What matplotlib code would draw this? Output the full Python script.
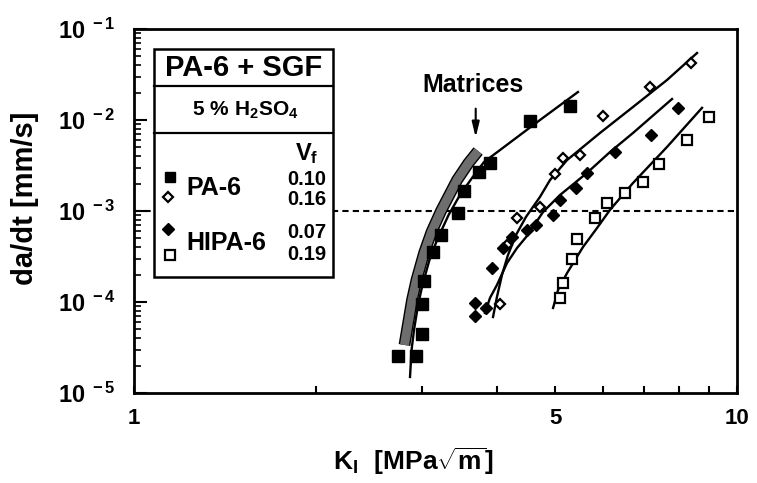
import matplotlib
matplotlib.use('Agg')
import matplotlib.pyplot as plt
from matplotlib.patches import Rectangle
from matplotlib.lines import Line2D
from matplotlib.ticker import FixedLocator, NullFormatter, FixedFormatter

plt.rcParams['font.family'] = ['Liberation Sans', 'DejaVu Sans']
plt.rcParams['font.weight'] = 'bold'
plt.rcParams['mathtext.fontset'] = 'custom'
plt.rcParams['mathtext.rm'] = 'Liberation Sans:bold'
plt.rcParams['mathtext.bf'] = 'Liberation Sans:bold'
plt.rcParams['mathtext.it'] = 'Liberation Sans:bold'
plt.rcParams['mathtext.sf'] = 'Liberation Sans:bold'

# ---------------- data (K_I [MPa sqrt(m)], da/dt [mm/s]) ----------------
pa6_010_K = [2.744, 2.930, 3.000, 3.000, 3.032, 3.132, 3.229, 3.440, 3.527, 3.727, 3.894, 4.536, 5.285]
pa6_010_v = [2.55e-5, 2.55e-5, 4.45e-5, 9.5e-5, 1.72e-4, 3.54e-4, 5.45e-4, 9.5e-4, 1.66e-3, 2.68e-3, 3.37e-3, 9.75e-3, 1.43e-2]

pa6_016_K = [4.046, 4.155, 4.312, 4.713, 4.991, 5.152, 5.490, 6.002, 7.174, 8.379]
pa6_016_v = [9.44e-5, 4.23e-4, 8.3e-4, 1.10e-3, 2.53e-3, 3.79e-3, 4.12e-3, 1.11e-2, 2.29e-2, 4.2e-2]

hipa_007_K = [3.678, 3.678, 3.842, 3.931, 4.098, 4.232, 4.479, 4.642, 4.948, 5.088, 5.401, 5.632, 6.277, 7.193, 7.992]
hipa_007_v = [9.7e-5, 7.06e-5, 8.7e-5, 2.39e-4, 3.89e-4, 5.14e-4, 6.18e-4, 7.02e-4, 9.04e-4, 1.32e-3, 1.80e-3, 2.64e-3, 4.42e-3, 6.84e-3, 1.35e-2]

hipa_019_K = [5.088, 5.140, 5.319, 5.434, 5.814, 6.08, 6.52, 6.99, 7.417, 8.253, 8.985]
hipa_019_v = [1.10e-4, 1.60e-4, 2.94e-4, 4.89e-4, 8.3e-4, 1.23e-3, 1.59e-3, 2.10e-3, 3.28e-3, 6.03e-3, 1.09e-2]

# fitted curves
fit_pa6_010_K = [2.869, 2.886, 2.913, 2.958, 3.009, 3.090, 3.181, 3.324, 3.472, 3.636, 3.805, 4.046, 4.713, 5.448]
fit_pa6_010_v = [1.50e-5, 2.97e-5, 4.92e-5, 9.27e-5, 1.54e-4, 2.90e-4, 4.80e-4, 9.04e-4, 1.50e-3, 2.31e-3, 3.45e-3, 4.68e-3, 1.0e-2, 2.03e-2]

fit_pa6_016_K = [3.939, 3.999, 4.076, 4.170, 4.300, 4.467, 4.713, 4.897, 5.226, 5.926, 6.722, 7.654, 8.585]
fit_pa6_016_v = [6.84e-5, 1.14e-4, 1.98e-4, 3.28e-4, 5.45e-4, 8.6e-4, 1.43e-3, 2.19e-3, 3.63e-3, 7.2e-3, 1.39e-2, 2.75e-2, 5.45e-2]

fit_hipa_007_K = [3.820, 3.894, 3.999, 4.155, 4.317, 4.484, 4.768, 5.088, 5.639, 6.158, 6.722, 7.802]
fit_hipa_007_v = [7.57e-5, 1.11e-4, 1.54e-4, 2.68e-4, 3.92e-4, 5.31e-4, 9.75e-4, 1.50e-3, 2.62e-3, 4.45e-3, 7.2e-3, 1.70e-2]

fit_hipa_019_K = [4.954, 5.050, 5.226, 5.554, 5.860, 6.158, 6.722, 7.654, 8.75]
fit_hipa_019_v = [8.6e-5, 1.36e-4, 2.08e-4, 4.02e-4, 6.5e-4, 1.03e-3, 2.03e-3, 5.05e-3, 1.36e-2]

matrix_K = [2.809, 2.836, 2.891, 2.941, 3.027, 3.114, 3.229, 3.434, 3.587, 3.721]
matrix_v = [3.37e-5, 4.92e-5, 1.05e-4, 1.75e-4, 3.45e-4, 5.87e-4, 1.0e-3, 2.19e-3, 3.37e-3, 4.56e-3]

threshold = 1.0e-3
arrow_K = 3.687
arrow_v_from, arrow_v_to = 1.43e-2, 6.0e-3

x_ticks = [1, 2, 3, 4, 5, 6, 7, 8, 9, 10]
x_ticklabels = ['1', '', '', '', '5', '', '', '', '', '10']
y_ticks = [1e-5, 1e-4, 1e-3, 1e-2, 1e-1]
y_ticklabels = [r'$\mathbf{10^{\ -5}}$', r'$\mathbf{10^{\ -4}}$', r'$\mathbf{10^{\ -3}}$',
                r'$\mathbf{10^{\ -2}}$', r'$\mathbf{10^{\ -1}}$']
vf_labels = ['0.10', '0.16', '0.07', '0.19']

# ---------------- figure ----------------
fig = plt.figure(figsize=(7.57, 4.83), dpi=100)
ax = fig.add_axes([134/757, 1-393/483, 603/757, 364/483])
ax.set_xscale('log')
ax.set_yscale('log')
ax.set_xlim(1, 10)
ax.set_ylim(1e-5, 1e-1)

# threshold line
ax.axhline(threshold, color='black', lw=1.5, ls=(0, (3, 2)), zorder=1)

# matrices band
ax.plot(matrix_K, matrix_v, color='black', lw=8.5, solid_capstyle='butt',
        solid_joinstyle='round', zorder=2)
ax.plot(matrix_K, matrix_v, color='#6e6e6e', lw=6.5, solid_capstyle='butt',
        solid_joinstyle='round', zorder=2.1)

# fit lines
for K, v in [(fit_pa6_010_K, fit_pa6_010_v), (fit_pa6_016_K, fit_pa6_016_v),
             (fit_hipa_007_K, fit_hipa_007_v), (fit_hipa_019_K, fit_hipa_019_v)]:
    ax.plot(K, v, color='black', lw=1.7, zorder=3, solid_joinstyle='round')

# markers
ax.plot(pa6_010_K, pa6_010_v, ls='none', marker='s', ms=8, mfc='black', mec='black', zorder=4)
ax.plot(pa6_016_K, pa6_016_v, ls='none', marker='D', ms=5.5, mfc='white', mec='black', mew=1.6, zorder=4)
ax.plot(hipa_007_K, hipa_007_v, ls='none', marker='D', ms=6.5, mfc='black', mec='black', zorder=4)
ax.plot(hipa_019_K, hipa_019_v, ls='none', marker='s', ms=7.5, mfc='white', mec='black', mew=1.6, zorder=4)

# Matrices annotation
ax.text(3.649, 2.4e-2, 'Matrices', ha='center', va='center', fontsize=18, fontweight='bold')
ax.annotate('', xy=(arrow_K, arrow_v_to), xytext=(arrow_K, arrow_v_from),
            arrowprops=dict(arrowstyle='-|>,head_length=0.9,head_width=0.22', color='black', lw=1.5))

# axes styling
for s in ax.spines.values():
    s.set_linewidth(2)
ax.xaxis.set_major_locator(FixedLocator(x_ticks))
ax.xaxis.set_major_formatter(FixedFormatter(x_ticklabels))
ax.xaxis.set_minor_locator(FixedLocator([]))
ax.yaxis.set_major_locator(FixedLocator(y_ticks))
ax.yaxis.set_major_formatter(FixedFormatter(y_ticklabels))
ax.yaxis.set_minor_locator(FixedLocator([m * 10.0**e for e in range(-5, -1) for m in range(2, 10)]))
ax.yaxis.set_minor_formatter(NullFormatter())
ax.tick_params(axis='x', which='major', direction='in', length=5, width=1.5, pad=11,
               labelsize=16, top=False)
ax.tick_params(axis='y', which='major', direction='in', length=9, width=1.5, pad=13,
               labelsize=17, right=False)
ax.tick_params(axis='y', which='minor', direction='in', length=5, width=1.2, right=False)
for lab in ax.get_xticklabels() + ax.get_yticklabels():
    lab.set_fontweight('bold')

ax.set_xlabel(r'$\mathbf{K_I\ \ [MPa\sqrt{m}]}$', fontsize=19)
ax.xaxis.set_label_coords(0.464, -0.145)
ax.set_ylabel('da/dt [mm/s]', fontsize=21, fontweight='bold')
ax.yaxis.set_label_coords(-0.158, 0.536)

# ---------------- legend box ----------------
def fx(px):
    return (px - 134) / 603.0

def fy(py):
    return (393 - py) / 364.0

bx0, bx1 = fx(154), fx(333)
by0, by1 = fy(277), fy(49)
ax.add_patch(Rectangle((bx0, by0), bx1 - bx0, by1 - by0, transform=ax.transAxes,
                       facecolor='white', edgecolor='black', lw=1.8, zorder=6))
for py in (86, 133):
    ax.add_line(Line2D([bx0, bx1], [fy(py), fy(py)], transform=ax.transAxes,
                       color='black', lw=1.6, zorder=7))

ax.text((bx0 + bx1) / 2, fy(76), 'PA-6 + SGF', transform=ax.transAxes, ha='center',
        va='baseline', fontsize=21, fontweight='bold', zorder=8)
ax.text((bx0 + bx1) / 2 + 0.004, fy(116), r'$\mathbf{5\ \%\ H_2SO_4}$', transform=ax.transAxes,
        ha='center', va='baseline', fontsize=15, zorder=8)
ax.text(fx(318), fy(160), r'$\mathbf{V_f}$', transform=ax.transAxes, ha='right',
        va='baseline', fontsize=17, zorder=8)
for lab, py in zip(vf_labels, (185, 205, 238, 260)):
    ax.text(fx(326), fy(py), lab, transform=ax.transAxes, ha='right', va='baseline',
            fontsize=14.5, fontweight='bold', zorder=8)
ax.text(fx(186), fy(195), 'PA-6', transform=ax.transAxes, ha='left', va='baseline',
        fontsize=18, fontweight='bold', zorder=8)
ax.text(fx(186), fy(250), 'HIPA-6', transform=ax.transAxes, ha='left', va='baseline',
        fontsize=18, fontweight='bold', zorder=8)
ax.plot([fx(169.5)], [fy(177)], transform=ax.transAxes, marker='s', ms=7.5, mfc='black',
        mec='black', ls='none', zorder=8, clip_on=False)
ax.plot([fx(167.7)], [fy(196.7)], transform=ax.transAxes, marker='D', ms=5, mfc='white',
        mec='black', mew=1.6, ls='none', zorder=8, clip_on=False)
ax.plot([fx(168)], [fy(228.7)], transform=ax.transAxes, marker='D', ms=6.5, mfc='black',
        mec='black', ls='none', zorder=8, clip_on=False)
ax.plot([fx(170)], [fy(255.3)], transform=ax.transAxes, marker='s', ms=6.5, mfc='white',
        mec='black', mew=1.6, ls='none', zorder=8, clip_on=False)

fig.savefig('out.png', dpi=100)
